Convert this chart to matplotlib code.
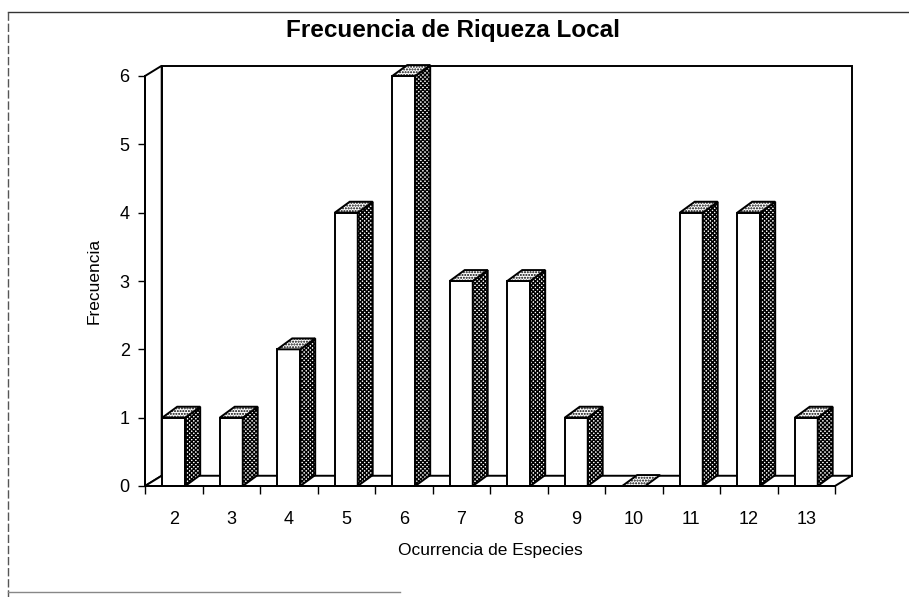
import matplotlib
matplotlib.use("Agg")
import matplotlib.pyplot as plt
from matplotlib.patches import Polygon, Rectangle
from matplotlib.lines import Line2D

plt.rcParams['font.family'] = ['Liberation Sans', 'DejaVu Sans']
plt.rcParams['hatch.linewidth'] = 1.0

# datos
categorias = [2, 3, 4, 5, 6, 7, 8, 9, 10, 11, 12, 13]
frecuencia = [1, 1, 2, 4, 6, 3, 3, 1, 0, 4, 4, 1]
yticks = [0, 1, 2, 3, 4, 5, 6]

fig = plt.figure(figsize=(9.09, 5.97), dpi=100)
ax = fig.add_axes([145 / 909, 1 - 486 / 597, 690 / 909, 410 / 597])

x = list(range(len(categorias)))
xmin, xmax = -0.5, len(categorias) - 0.5
ax.set_xlim(xmin, xmax)
ax.set_ylim(0, 6)

# profundidad del efecto 3D (unidades de datos)
wdx, wdy = 0.29, 0.15
bdx, bdy = 0.26, 0.16
ancho = 0.4

# pared del fondo, pared izquierda y piso
ax.add_patch(Rectangle((xmin + wdx, wdy), xmax - xmin, 6, fc='white', ec='black',
                       lw=1.4, clip_on=False, zorder=1))
ax.add_patch(Polygon([(xmin, 0), (xmin + wdx, wdy), (xmin + wdx, 6 + wdy), (xmin, 6)],
                     closed=True, fc='white', ec='black', lw=1.4, clip_on=False, zorder=1))
ax.add_patch(Polygon([(xmin, 0), (xmin + wdx, wdy), (xmax + wdx, wdy), (xmax, 0)],
                     closed=True, fc='white', ec='black', lw=1.4, clip_on=False, zorder=1))

# barras
for xi, v in zip(x, frecuencia):
    x0 = xi - ancho / 2
    x1 = xi + ancho / 2
    if v > 0:
        ax.add_patch(Rectangle((x0, 0), ancho, v, fc='white', ec='black', lw=1.4,
                               clip_on=False, zorder=3))
        ax.add_patch(Polygon([(x1, 0), (x1 + bdx, bdy), (x1 + bdx, v + bdy), (x1, v)],
                             closed=True, fc='white', ec='black', hatch='xxxxxxxx', lw=1.4,
                             clip_on=False, zorder=3))
    ax.add_patch(Polygon([(x0, v), (x0 + bdx, v + bdy), (x1 + bdx, v + bdy), (x1, v)],
                         closed=True, fc='white', ec='black', hatch='......', lw=1.4,
                         clip_on=False, zorder=3))

# ejes
for s in ['top', 'right']:
    ax.spines[s].set_visible(False)
ax.spines['left'].set_linewidth(1.4)
ax.spines['bottom'].set_linewidth(1.4)
ax.spines['left'].set_zorder(4)
ax.spines['bottom'].set_zorder(4)
ax.set_facecolor('none')

ax.set_yticks(yticks)
ax.tick_params(axis='y', direction='out', length=5, width=1, pad=6, labelsize=13)
ax.set_xticks([i - 0.5 for i in range(len(categorias) + 1)])
ax.set_xticklabels([])
ax.set_xticks(x, minor=True)
ax.set_xticklabels([str(c) for c in categorias], minor=True)
ax.tick_params(axis='x', which='major', direction='out', length=6, width=1)
ax.tick_params(axis='x', which='minor', length=0, pad=18, labelsize=13)

ax.set_ylabel('Frecuencia', fontsize=12.5, labelpad=13)
ax.set_xlabel('Ocurrencia de Especies', fontsize=12.5, labelpad=11)
fig.text(453 / 909, 1 - 31 / 597, 'Frecuencia de Riqueza Local', ha='center', va='center',
         fontsize=17.5, fontweight='bold')

# marco del escaneo
fig.add_artist(Line2D([8 / 909, 1], [1 - 12 / 597] * 2, color='#333333', lw=1))
fig.add_artist(Line2D([8 / 909] * 2, [1 - 12 / 597, 0], color='#555555', lw=1, ls=(0, (6, 2))))
fig.add_artist(Line2D([8 / 909, 400 / 909], [1 - 592 / 597] * 2, color='#888888', lw=1))

fig.savefig('out.png', dpi=100)
